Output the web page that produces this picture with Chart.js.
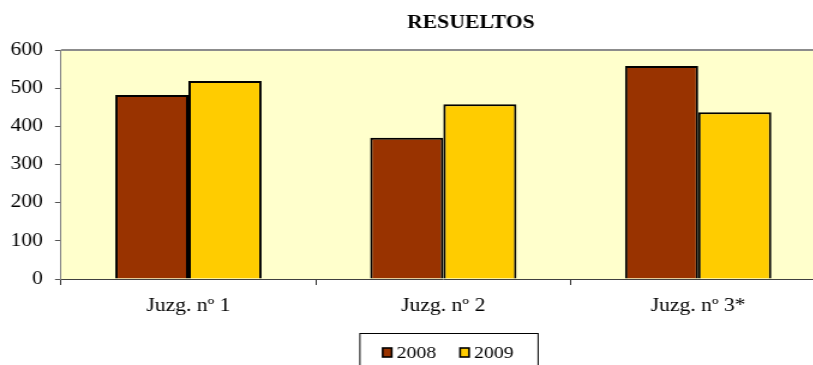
<!DOCTYPE html>
<html><head><meta charset="utf-8">
<script src="https://cdn.jsdelivr.net/npm/chart.js@4/dist/chart.umd.min.js"></script>
<style>
html,body{margin:0;padding:0;overflow:hidden;background:#fff;width:813px;height:365px}
#wrap{width:688px;height:365px;transform:scaleX(1.2);transform-origin:0 0}
canvas{display:block}
.pre{font-family:"Liberation Serif";position:absolute;left:-9999px}
</style>
</head><body><span class="pre">2008 <b>RESUELTOS</b></span><div id="wrap"><canvas id="c" width="688" height="365"></canvas></div>
<script>
const categories = ['Juzg. nº 1', 'Juzg. nº 2', 'Juzg. nº 3*'];
const seriesLabels = ['2008', '2009'];
const values2008 = [482, 370, 558];
const values2009 = [519, 458, 437];
const yTickValues = [0, 100, 200, 300, 400, 500, 600];
const chartTitle = 'RESUELTOS';
const seriesColors = ['#993300', '#FFCC00'];

const FONT = '"Liberation Serif", serif';

const deco = {
  id: 'deco',
  beforeDraw(chart) {
    const {ctx, chartArea: a} = chart;
    ctx.save();
    ctx.fillStyle = '#FFFFCC';
    ctx.fillRect(a.left, a.top, a.right - a.left, a.bottom - a.top);
    ctx.strokeStyle = '#8c8c8c';
    ctx.lineWidth = 2;
    ctx.beginPath();
    ctx.moveTo(a.left, a.top);
    ctx.lineTo(a.right, a.top);
    ctx.stroke();
    ctx.restore();
  },
  afterDraw(chart) {
    const {ctx, chartArea: a} = chart;
    const cx = (a.left + a.right) / 2;
    ctx.save();
    ctx.fillStyle = '#000';
    ctx.font = 'bold 18px ' + FONT;
    ctx.textAlign = 'center';
    ctx.textBaseline = 'alphabetic';
    ctx.fillText(chartTitle, cx + 23, 28);
    ctx.font = '16.5px ' + FONT;
    ctx.textAlign = 'left';
    const lc = cx + 4;
    const boxL = lc - 74, boxR = lc + 74.5;
    ctx.strokeStyle = '#000';
    ctx.lineWidth = 1;
    ctx.strokeRect(boxL + 0.5, 333.5, boxR - boxL, 60);
    const mW = 7.5, mH = 9, gap = 4, itemGap = 20;
    const widths = chart.data.datasets.map(d => ctx.measureText(d.label).width);
    let total = 0;
    widths.forEach((w, i) => { total += mW + gap + w + (i ? itemGap : 0); });
    let x = lc - total / 2;
    chart.data.datasets.forEach((d, i) => {
      if (i) x += itemGap;
      ctx.fillStyle = d.backgroundColor;
      ctx.fillRect(x, 348, mW, mH);
      ctx.lineWidth = 1.6;
      ctx.strokeStyle = '#000';
      ctx.strokeRect(x, 348, mW, mH);
      x += mW + gap;
      ctx.fillStyle = '#000';
      ctx.fillText(d.label, x, 357.5);
      x += widths[i];
    });
    ctx.restore();
  }
};

function draw() {
  new Chart(document.getElementById('c'), {
    type: 'bar',
    data: {
      labels: categories,
      datasets: [
        {label: seriesLabels[0], data: values2008, backgroundColor: seriesColors[0], borderColor: '#000', borderWidth: 2},
        {label: seriesLabels[1], data: values2009, backgroundColor: seriesColors[1], borderColor: '#000', borderWidth: 2}
      ]
    },
    options: {
      responsive: false,
      animation: false,
      devicePixelRatio: 1,
      layout: {padding: {top: 50, bottom: 46, left: 0, right: 0}},
      plugins: {legend: {display: false}, title: {display: false}, tooltip: {enabled: false}},
      datasets: {bar: {categoryPercentage: 0.574, barPercentage: 1}},
      scales: {
        x: {
          grid: {display: true, drawOnChartArea: false, offset: true, tickLength: 6, color: '#333'},
          border: {display: true, color: '#404040', width: 1},
          ticks: {color: '#000', font: {family: FONT, size: 18}, padding: 10, maxRotation: 0},
          afterFit(s) { s.height = 40; }
        },
        y: {
          min: 0, max: 600,
          afterBuildTicks(s) { s.ticks = yTickValues.map(v => ({value: v})); },
          grid: {display: true, drawOnChartArea: false, tickLength: 5, color: '#555'},
          border: {display: true, color: '#808080', width: 1},
          ticks: {color: '#000', font: {family: FONT, size: 18}, padding: 10},
          afterFit(s) { s.width = 50.8; }
        }
      }
    },
    plugins: [deco]
  });
}
Promise.all([
  document.fonts.load('18px "Liberation Serif"'),
  document.fonts.load('bold 18px "Liberation Serif"')
]).then(draw, draw);
</script>
</body></html>
